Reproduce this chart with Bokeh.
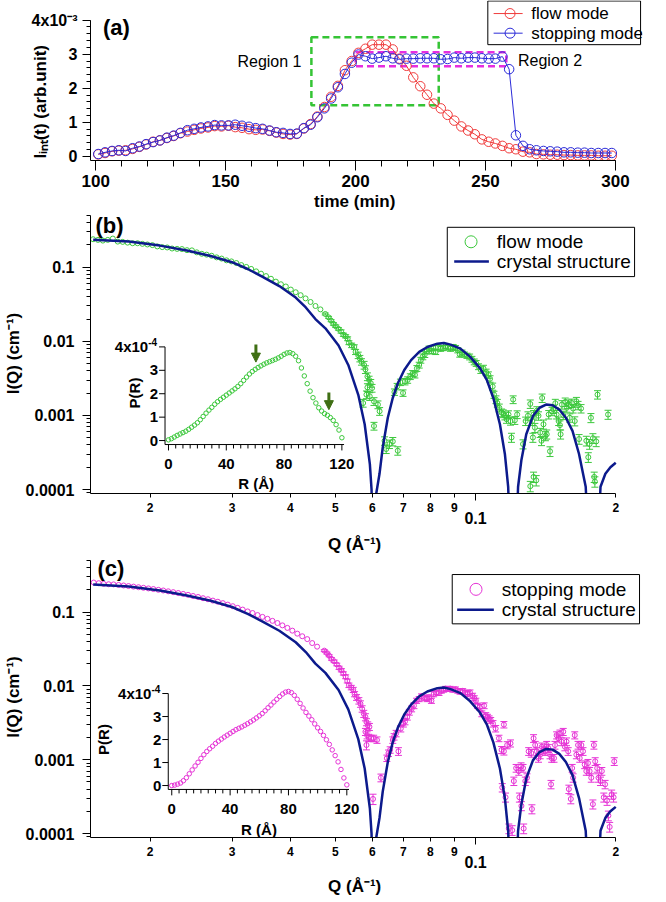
import math
from bokeh.plotting import figure
from bokeh.layouts import column
from bokeh.models import (Range1d, LinearScale, FixedTicker, CustomJSTickFormatter, LogAxis,
                          Arrow, NormalHead)
from bokeh.core.properties import value
from bokeh.embed import file_html
from bokeh.resources import INLINE

# ----------------------------------------------------------------- data (a)
time_min = [101.0, 103.6, 106.3, 108.9, 111.5, 114.2, 116.8, 119.4, 122.1, 124.7,
            127.4, 130.0, 132.6, 135.3, 137.9, 140.5, 143.2, 145.8, 148.4, 151.1,
            153.7, 156.3, 159.0, 161.6, 164.2, 166.9, 169.5, 172.1, 174.8, 177.4,
            180.1, 182.7, 185.3, 188.0, 190.6, 193.2, 195.9, 198.5, 201.1, 203.8,
            206.4, 209.0, 211.7, 214.3, 216.9, 219.6, 222.2, 224.9, 227.5, 230.1,
            232.8, 235.4, 238.0, 240.7, 243.3, 245.9, 248.6, 251.2, 253.8, 256.5,
            259.1, 261.7, 264.4, 267.0, 269.6, 272.3, 274.9, 277.6, 280.2, 282.8,
            285.5, 288.1, 290.7, 293.4, 296.0, 298.6]
# integrated intensity, in units of 1e-3
flow_int = [0.06, 0.10, 0.15, 0.17, 0.18, 0.22, 0.28, 0.35, 0.43, 0.47,
            0.54, 0.60, 0.68, 0.73, 0.78, 0.82, 0.85, 0.89, 0.88, 0.90,
            0.86, 0.84, 0.80, 0.78, 0.79, 0.75, 0.70, 0.66, 0.64, 0.66,
            0.82, 0.95, 1.17, 1.45, 1.75, 2.07, 2.53, 2.80, 3.04, 3.16,
            3.28, 3.28, 3.28, 3.14, 2.87, 2.66, 2.32, 2.06, 1.81, 1.55,
            1.41, 1.22, 1.05, 0.88, 0.76, 0.65, 0.50, 0.43, 0.38, 0.31,
            0.24, 0.21, 0.14, 0.12, 0.07, 0.06, 0.05, 0.05, 0.04, 0.04,
            0.03, 0.03, 0.03, 0.02, 0.02, 0.02]
stop_int = [0.07, 0.12, 0.16, 0.18, 0.16, 0.24, 0.29, 0.36, 0.42, 0.47,
            0.55, 0.61, 0.69, 0.77, 0.81, 0.85, 0.88, 0.92, 0.91, 0.91,
            0.93, 0.90, 0.87, 0.83, 0.81, 0.76, 0.71, 0.69, 0.66, 0.67,
            0.83, 0.93, 1.15, 1.41, 1.70, 2.03, 2.42, 2.75, 2.99, 2.94,
            2.87, 2.90, 2.94, 2.88, 2.85, 2.87, 2.87, 2.88, 2.88, 2.88,
            2.85, 2.86, 2.90, 2.88, 2.90, 2.90, 2.88, 2.87, 2.87, 2.93,
            2.56, 0.62, 0.31, 0.21, 0.18, 0.16, 0.15, 0.14, 0.12, 0.12,
            0.11, 0.11, 0.10, 0.10, 0.10, 0.10]
time_ticks = [100, 150, 200, 250, 300]
int_ticks = [0, 1, 2, 3, 4]
region1_t = [183, 232]
region1_I = [1.5, 3.5]
region2_t = [200, 258]
region2_I = [2.65, 3.06]

# ----------------------------------------------------------------- data (b) flow mode
qb_guinier = [0.01509, 0.01546, 0.01584, 0.01623, 0.01664, 0.01705, 0.01747, 0.01790, 0.01835, 0.01880,
              0.01926, 0.01974, 0.02023, 0.02073, 0.02124, 0.02177, 0.02230, 0.02286, 0.02342, 0.02401,
              0.02460, 0.02520, 0.02583, 0.02646, 0.02712, 0.02780, 0.02849, 0.02919, 0.02991, 0.03065,
              0.03141, 0.03219, 0.03298, 0.03380, 0.03463, 0.03549, 0.03637, 0.03726, 0.03820, 0.03914,
              0.04011, 0.04110, 0.04211, 0.04315, 0.04423, 0.04532, 0.04644]
ib_guinier = [0.239, 0.234, 0.229, 0.234, 0.244, 0.222, 0.220, 0.215, 0.211, 0.211,
              0.207, 0.203, 0.199, 0.191, 0.187, 0.185, 0.179, 0.177, 0.176, 0.170,
              0.169, 0.159, 0.152, 0.148, 0.143, 0.136, 0.131, 0.124, 0.120, 0.114,
              0.107, 0.101, 0.095, 0.088, 0.082, 0.076, 0.070, 0.064, 0.059, 0.055,
              0.050, 0.046, 0.042, 0.038, 0.034, 0.030, 0.027]
eb_guinier = [0.01] * 47
qb_dip = [0.04757, 0.04835, 0.04897, 0.04953, 0.05010, 0.05076, 0.05143, 0.05202, 0.05261, 0.05313,
          0.05347, 0.05418, 0.05490, 0.05526, 0.05598, 0.05643, 0.05689, 0.05764, 0.05802, 0.05859,
          0.05907, 0.05956, 0.05994, 0.05859, 0.05831, 0.05927, 0.05736, 0.06052, 0.06172, 0.06223,
          0.06052, 0.06377, 0.06429, 0.06534, 0.06642, 0.06808]
ib_dip = [0.0234, 0.0211, 0.0190, 0.0172, 0.0160, 0.01475, 0.0136, 0.0123, 0.0117, 0.01085,
          0.0096, 0.00884, 0.0084, 0.00721, 0.0065, 0.00587, 0.0053, 0.00479, 0.00418, 0.00335,
          0.00302, 0.00273, 0.00234, 0.00239, 0.00191, 0.00181, 0.00147, 0.00155, 0.0014, 0.00114,
          0.00072, 0.000455, 0.000352, 0.000411, 0.000446, 0.000334]
eb_dip = [0.03, 0.03, 0.03, 0.04, 0.04, 0.04, 0.05, 0.05, 0.05, 0.06,
          0.06, 0.07, 0.07, 0.08, 0.10, 0.10, 0.10, 0.12, 0.12, 0.12,
          0.12, 0.12, 0.12, 0.12, 0.12, 0.12, 0.12, 0.12, 0.12, 0.12,
          0.12, 0.13, 0.13, 0.13, 0.13, 0.13]
qb_lobe = [0.06696, 0.06785, 0.06897, 0.06987, 0.07055, 0.07148, 0.07242, 0.07326, 0.07410, 0.07482,
           0.07568, 0.07630, 0.07705, 0.07780, 0.07857, 0.07947, 0.08040, 0.08117, 0.08210, 0.08304,
           0.08414, 0.08525, 0.08622, 0.08721, 0.08835, 0.08952, 0.09055, 0.09159, 0.09248, 0.09353,
           0.09461, 0.09585, 0.09711, 0.09823, 0.09936, 0.10032, 0.10148, 0.10265, 0.10399, 0.10536,
           0.10656, 0.10743, 0.10883, 0.10955, 0.11063, 0.11136, 0.11245, 0.11374, 0.11466, 0.11561,
           0.11655, 0.11770, 0.11887, 0.12043, 0.12143, 0.12283]
ib_lobe = [0.00207, 0.00246, 0.00281, 0.00201, 0.00287, 0.00302, 0.00335, 0.00370, 0.00352, 0.00432,
           0.00479, 0.00558, 0.00620, 0.00665, 0.00736, 0.00798, 0.00736, 0.00814, 0.00721, 0.00830,
           0.00798, 0.00814, 0.00867, 0.00830, 0.00798, 0.00840, 0.00814, 0.00760, 0.00665, 0.00706,
           0.00665, 0.00640, 0.00618, 0.00575, 0.00530, 0.00505, 0.00456, 0.00410, 0.00432, 0.00383,
           0.00352, 0.00312, 0.00246, 0.00191, 0.00164, 0.00147, 0.00127, 0.00109, 0.00106, 0.00099,
           0.00089, 0.00103, 0.00084, 0.00164, 0.00086, 0.00103]
eb_lobe = [0.10, 0.10, 0.10, 0.10, 0.10, 0.10, 0.09, 0.09, 0.09, 0.09,
           0.09, 0.09, 0.09, 0.09, 0.08, 0.08, 0.08, 0.08, 0.08, 0.08,
           0.08, 0.08, 0.08, 0.08, 0.08, 0.08, 0.08, 0.08, 0.08, 0.08,
           0.08, 0.08, 0.09, 0.09, 0.09, 0.09, 0.09, 0.10, 0.10, 0.10,
           0.10, 0.10, 0.11, 0.11, 0.12, 0.12, 0.12, 0.12, 0.12, 0.12,
           0.12, 0.12, 0.12, 0.12, 0.12, 0.12]
qb_high = [0.11945, 0.12646, 0.12811, 0.12959, 0.13108, 0.13236, 0.13322, 0.13278, 0.13410, 0.13541,
           0.13652, 0.13764, 0.13855, 0.13900, 0.13991, 0.14126, 0.14218, 0.14358, 0.14452, 0.14594,
           0.14690, 0.14835, 0.14932, 0.15080, 0.15178, 0.15228, 0.15326, 0.15426, 0.15578, 0.15705,
           0.15835, 0.15938, 0.16096, 0.16201, 0.16332, 0.16466, 0.16600, 0.16682, 0.16846, 0.17294,
           0.17463, 0.17577, 0.17691, 0.17863, 0.17979, 0.18039, 0.18158, 0.18277, 0.19254, 0.13322,
           0.13108, 0.13497]
ib_high = [0.000504, 0.000411, 0.00084, 0.00099, 0.00143, 0.00084, 0.00103, 0.000504, 0.000685, 0.00116,
           0.00099, 0.000587, 0.000455, 0.00172, 0.00076, 0.00053, 0.000558, 0.00103, 0.000328, 0.00114,
           0.00122, 0.00146, 0.00103, 0.00084, 0.00074, 0.000558, 0.00140, 0.00101, 0.00152, 0.00127,
           0.00143, 0.00093, 0.00147, 0.00124, 0.00084, 0.00155, 0.00137, 0.00048, 0.00124, 0.000455,
           0.000273, 0.000411, 0.00093, 0.000493, 0.000148, 0.000128, 0.000446, 0.00191, 0.00103, 0.000148,
           0.000111, 0.000133]
eb_high = [0.14, 0.14, 0.13, 0.13, 0.13, 0.13, 0.13, 0.14, 0.14, 0.13,
           0.13, 0.14, 0.14, 0.13, 0.14, 0.14, 0.14, 0.13, 0.15, 0.13,
           0.13, 0.13, 0.13, 0.13, 0.14, 0.14, 0.13, 0.13, 0.13, 0.13,
           0.13, 0.13, 0.13, 0.13, 0.14, 0.13, 0.13, 0.15, 0.13, 0.15,
           0.15, 0.15, 0.14, 0.15, 0.16, 0.16, 0.15, 0.13, 0.14, 0.16,
           0.16, 0.16]

# ----------------------------------------------------------------- data (c) stopping mode
qc_guinier = [0.01514, 0.01552, 0.01590, 0.01630, 0.01670, 0.01712, 0.01755, 0.01798, 0.01843, 0.01889,
              0.01936, 0.01984, 0.02033, 0.02084, 0.02135, 0.02188, 0.02243, 0.02299, 0.02356, 0.02414,
              0.02474, 0.02536, 0.02599, 0.02663, 0.02729, 0.02797, 0.02867, 0.02938, 0.03011, 0.03085,
              0.03162, 0.03241, 0.03321, 0.03404, 0.03488, 0.03575, 0.03664, 0.03755, 0.03848, 0.03944,
              0.04042, 0.04142, 0.04245, 0.04351, 0.04459, 0.04569]
ic_guinier = [0.251, 0.246, 0.241, 0.238, 0.237, 0.233, 0.229, 0.225, 0.221, 0.217,
              0.213, 0.209, 0.205, 0.200, 0.196, 0.191, 0.186, 0.181, 0.176, 0.171,
              0.165, 0.160, 0.154, 0.149, 0.143, 0.138, 0.132, 0.126, 0.120, 0.114,
              0.108, 0.102, 0.097, 0.091, 0.086, 0.081, 0.076, 0.071, 0.066, 0.061,
              0.056, 0.051, 0.047, 0.043, 0.038, 0.034]
ec_guinier = [0.01] * 46
qc_dip = [0.04734, 0.04796, 0.04850, 0.04905, 0.04970, 0.05035, 0.05093, 0.05151, 0.05202, 0.05261,
          0.05304, 0.05347, 0.05409, 0.05462, 0.05499, 0.05553, 0.05616, 0.05661, 0.05708, 0.05754,
          0.05802, 0.05831, 0.05868, 0.05917, 0.05802, 0.05850, 0.05897, 0.05965, 0.06043, 0.06142,
          0.05831, 0.06023, 0.06264]
ic_dip = [0.0300, 0.0278, 0.0256, 0.0232, 0.0215, 0.0195, 0.0176, 0.0163, 0.01475, 0.01331,
          0.01166, 0.0102, 0.0095, 0.00884, 0.00774, 0.00699, 0.0063, 0.0057, 0.00489, 0.0042,
          0.00378, 0.00324, 0.00293, 0.00279, 0.00239, 0.00215, 0.00199, 0.00195, 0.00195, 0.00185,
          0.00158, 0.000294, 0.00057]
ec_dip = [0.03, 0.03, 0.03, 0.04, 0.04, 0.04, 0.05, 0.05, 0.05, 0.06,
          0.06, 0.07, 0.07, 0.08, 0.08, 0.09, 0.10, 0.10, 0.10, 0.11,
          0.11, 0.11, 0.11, 0.11, 0.11, 0.11, 0.11, 0.10, 0.10, 0.10,
          0.14, 0.16, 0.12]
qc_lobe = [0.06450, 0.06502, 0.06556, 0.06642, 0.06685, 0.06752, 0.06830, 0.06909, 0.06998, 0.07055,
           0.07136, 0.07207, 0.07290, 0.07374, 0.07470, 0.07568, 0.07655, 0.07780, 0.07870, 0.07947,
           0.08040, 0.08130, 0.08237, 0.08345, 0.08441, 0.08539, 0.08622, 0.08721, 0.08820, 0.08937,
           0.09055, 0.09159, 0.09263, 0.09384, 0.09507, 0.09616, 0.09727, 0.09855, 0.09936, 0.10016,
           0.10098, 0.10214, 0.10315, 0.10433, 0.10518, 0.10605, 0.10691, 0.10778, 0.10901, 0.11045,
           0.11227, 0.11374, 0.11504, 0.11504, 0.11693, 0.11887]
ic_lobe = [0.00105, 0.00123, 0.00136, 0.00185, 0.00205, 0.00227, 0.00130, 0.00264, 0.00308, 0.00330,
           0.00378, 0.00441, 0.00489, 0.00540, 0.00630, 0.00665, 0.00721, 0.00692, 0.00665, 0.00699,
           0.00630, 0.00774, 0.00815, 0.00798, 0.00857, 0.00884, 0.00920, 0.00903, 0.00920, 0.00884,
           0.00903, 0.00857, 0.00830, 0.00857, 0.00815, 0.00774, 0.00815, 0.00736, 0.00680, 0.00630,
           0.00540, 0.00514, 0.00420, 0.00540, 0.00398, 0.00378, 0.00360, 0.00342, 0.00308, 0.00264,
           0.00195, 0.00136, 0.00130, 0.00299, 0.00158, 0.00167]
ec_lobe = [0.10, 0.10, 0.10, 0.10, 0.10, 0.10, 0.12, 0.10, 0.10, 0.10,
           0.09, 0.09, 0.09, 0.09, 0.08, 0.08, 0.08, 0.08, 0.08, 0.08,
           0.08, 0.08, 0.07, 0.07, 0.07, 0.07, 0.07, 0.07, 0.07, 0.07,
           0.07, 0.07, 0.07, 0.07, 0.07, 0.08, 0.08, 0.08, 0.08, 0.08,
           0.08, 0.09, 0.09, 0.09, 0.09, 0.09, 0.09, 0.09, 0.10, 0.10,
           0.10, 0.11, 0.11, 0.10, 0.11, 0.11]
qc_high = [0.11411, 0.11598, 0.11790, 0.11985, 0.12083, 0.12223, 0.12381, 0.12523, 0.12646, 0.12687,
           0.12421, 0.12544, 0.12790, 0.12896, 0.13002, 0.13172, 0.13215, 0.13322, 0.13431, 0.13541,
           0.13652, 0.13764, 0.13878, 0.13991, 0.14103, 0.14218, 0.14335, 0.14452, 0.14523, 0.14570,
           0.14740, 0.14811, 0.14932, 0.15055, 0.15178, 0.15301, 0.15426, 0.15553, 0.15680, 0.15808,
           0.15860, 0.16017, 0.16122, 0.16201, 0.16332, 0.16465, 0.16600, 0.16737, 0.16874, 0.17013,
           0.17153, 0.17294, 0.17435, 0.17577, 0.17720, 0.17863, 0.17951, 0.18068, 0.18247, 0.18366,
           0.18548, 0.18670, 0.18852, 0.18973, 0.19161, 0.19286, 0.19410, 0.19599, 0.19789, 0.19852]
ic_high = [0.00042, 0.00031, 0.000117, 0.000111, 0.000514, 0.00077, 0.00070, 0.00081, 0.00077, 0.000117,
           0.00031, 0.000237, 0.000514, 0.00057, 0.00130, 0.00123, 0.000215, 0.00195, 0.00158, 0.00130,
           0.00105, 0.00117, 0.00150, 0.00136, 0.00130, 0.00158, 0.00143, 0.00117, 0.000464, 0.00105,
           0.00105, 0.00158, 0.00215, 0.00195, 0.00227, 0.00176, 0.00239, 0.00150, 0.00176, 0.00130,
           0.00040, 0.000294, 0.00077, 0.00057, 0.00215, 0.00117, 0.00158, 0.00105, 0.00158, 0.00130,
           0.00086, 0.00070, 0.00090, 0.00070, 0.00057, 0.00025, 0.00158, 0.00095, 0.00077, 0.00057,
           0.000514, 0.00070, 0.00031, 0.000464, 0.00028, 0.000175, 0.000123, 0.00034, 0.00031, 0.00095]
ec_high = [0.13, 0.14, 0.15, 0.15, 0.13, 0.12, 0.12, 0.12, 0.12, 0.15,
           0.14, 0.14, 0.13, 0.13, 0.12, 0.12, 0.14, 0.12, 0.12, 0.12,
           0.12, 0.12, 0.12, 0.12, 0.12, 0.12, 0.12, 0.12, 0.13, 0.12,
           0.12, 0.12, 0.11, 0.11, 0.11, 0.12, 0.11, 0.12, 0.12, 0.12,
           0.13, 0.14, 0.12, 0.13, 0.11, 0.12, 0.12, 0.12, 0.12, 0.12,
           0.12, 0.12, 0.12, 0.12, 0.13, 0.14, 0.12, 0.12, 0.12, 0.13,
           0.13, 0.12, 0.14, 0.13, 0.14, 0.15, 0.15, 0.14, 0.14, 0.12]

# ----------------------------------------------------------------- crystal structure curve
q_cryst = [0.0151, 0.0180, 0.0210, 0.0240, 0.0270, 0.0300, 0.0325, 0.0349, 0.0379, 0.0411,
           0.0432, 0.0453, 0.0476, 0.0508, 0.0533, 0.0560, 0.0578, 0.0593, 0.0598, 0.0605,
           0.0612, 0.0622, 0.0632, 0.0648, 0.0664, 0.0681, 0.0703, 0.0727, 0.0757, 0.0788,
           0.0828, 0.0855, 0.0884, 0.0928, 0.0974, 0.1023, 0.1057, 0.1092, 0.1128, 0.1156,
           0.1175, 0.1204, 0.1234, 0.1254, 0.1285, 0.1328, 0.1372, 0.1417, 0.1464, 0.1513,
           0.1563, 0.1615, 0.1668, 0.1724, 0.1790, 0.1855, 0.1900, 0.1948, 0.2000]
i_cryst = [0.236, 0.222, 0.196, 0.168, 0.142, 0.117, 0.094, 0.0743, 0.0558, 0.0390,
           0.0287, 0.0200, 0.0150, 0.0088, 0.0048, 0.0019, 0.00076, 0.00022, 0.00010, 0.000001,
           0.0000885, 0.000163, 0.000371, 0.00093, 0.00172, 0.00272, 0.0041, 0.00558, 0.00721, 0.0084,
           0.00931, 0.0095, 0.00903, 0.00798, 0.00618, 0.00432, 0.00302, 0.00172, 0.00076, 0.000302,
           0.000109, 0.000001, 0.000109, 0.000246, 0.000558, 0.00098, 0.00127, 0.0014, 0.00137, 0.0012,
           0.00093, 0.000618, 0.000302, 0.000109, 0.000001, 0.000109, 0.000163, 0.0002, 0.00023]

# ----------------------------------------------------------------- insets: P(R), units of 1e-4
r_pr = list(range(0, 121, 2))
pr_flow = [0.03, 0.08, 0.15, 0.22, 0.28, 0.34, 0.40, 0.48, 0.57, 0.66,
           0.76, 0.89, 1.03, 1.17, 1.30, 1.42, 1.55, 1.66, 1.76, 1.85,
           1.94, 2.03, 2.12, 2.21, 2.31, 2.43, 2.57, 2.71, 2.84, 2.95,
           3.04, 3.12, 3.19, 3.26, 3.32, 3.37, 3.42, 3.47, 3.53, 3.60,
           3.68, 3.74, 3.76, 3.71, 3.60, 3.41, 3.10, 2.76, 2.43, 2.11,
           1.83, 1.60, 1.40, 1.26, 1.15, 1.08, 0.98, 0.86, 0.68, 0.45,
           0.12]
pr_stop = [0.00, 0.02, 0.06, 0.11, 0.21, 0.34, 0.51, 0.68, 0.85, 1.01,
           1.18, 1.34, 1.48, 1.60, 1.71, 1.83, 1.93, 2.02, 2.11, 2.19,
           2.27, 2.35, 2.43, 2.49, 2.55, 2.62, 2.69, 2.77, 2.85, 2.94,
           3.03, 3.13, 3.25, 3.38, 3.50, 3.63, 3.75, 3.87, 3.98, 4.06,
           4.09, 4.04, 3.92, 3.75, 3.57, 3.37, 3.18, 3.02, 2.86, 2.68,
           2.51, 2.35, 2.18, 1.99, 1.79, 1.55, 1.30, 1.03, 0.70, 0.33,
           0.03]
inset_r_ticks = [0, 40, 80, 120]
inset_p_ticks = [0, 1, 2, 3, 4]
arrow_r = [60.5, 111.0]
arrow_from = [4.10, 2.05]
arrow_to = [3.35, 1.32]

# ----------------------------------------------------------------- styling / layout
FONT = "Liberation Sans"
RED, BLUE = "#f03c3c", "#2b2bd8"
GREEN, MAGENTA, NAVY = "#3cc83c", "#e633d6", "#0c1a8c"
BOX_GREEN, BOX_MAGENTA = "#35c435", "#e62ee0"
ARROW_GREEN = "#3f6f14"
W = 650
NB = "\u00a0"   # non-breaking space used to nudge centred axis titles

# panel (a) geometry (figure pixels)
A_H, A_L, A_FB = 213, 79, 163          # height, frame left, frame bottom
A_AX_RIGHT, A_AX_TOP = 622, 20         # where t=300 and I=4 sit
T_AX = (98, 300)
I_AX = (-0.12, 4.0)

# panels (b), (c)
S_L, S_FR = 85, 642                    # frame left / right
Q_AX = (0.0149, 0.2)
Q_AX_RIGHT = 615                       # pixel of Q = 0.2
IQ_AX = (8.84e-5, 0.5)


def style_axis(ax, size, out, minor_out, standoff, label_size=17, label_standoff=2):
    ax.axis_line_color = "black"
    ax.axis_line_width = 1
    ax.major_tick_line_color = "black"
    ax.minor_tick_line_color = "black"
    ax.major_tick_in = 0
    ax.minor_tick_in = 0
    ax.major_tick_out = out
    ax.minor_tick_out = minor_out
    ax.major_label_text_font = FONT
    ax.major_label_text_font_style = "bold"
    ax.major_label_text_font_size = f"{size}px"
    ax.major_label_text_color = "black"
    ax.major_label_standoff = standoff
    ax.axis_label_text_font = FONT
    ax.axis_label_text_font_style = "bold"
    ax.axis_label_text_font_size = f"{label_size}px"
    ax.axis_label_text_color = "black"
    ax.axis_label_standoff = label_standoff


def add_text(p, x, y, s, size, bold=True, align="left", baseline="middle", angle=0.0, rng=None):
    kw = dict(x_range_name=rng[0], y_range_name=rng[1]) if rng else {}
    p.text(x=[x], y=[y], text=[s], text_font=value(FONT), text_font_size=f"{size}px",
           text_font_style="bold" if bold else "normal", text_align=align,
           text_baseline=baseline, angle=angle, text_color="black", **kw)


def draw_legend(p, box, rows, size):
    """box: (left, top, right, bottom) in figure px; rows: (y, kinds, color, glyph_x, text_x, label, msize)"""
    kw = dict(x_range_name="fx", y_range_name="fy")
    p.quad(left=[box[0]], top=[box[1]], right=[box[2]], bottom=[box[3]],
           fill_color="white", line_color="black", line_width=1, **kw)
    for y, kinds, color, gx, tx, label, msize in rows:
        if "line" in kinds:
            p.segment(x0=[gx[0]], y0=[y], x1=[gx[1]], y1=[y], line_color=color,
                      line_width=kinds["line"], **kw)
        if "circle" in kinds:
            p.scatter([kinds["circle"]], [y], marker="circle", size=msize, line_color=color,
                      fill_color=None, line_width=1, **kw)
        add_text(p, tx, y, label, size, bold=False, rng=("fx", "fy"))


# ================================================================= panel (a)
a_px_x = (A_AX_RIGHT - A_L) / (T_AX[1] - T_AX[0])
a_px_y = (A_FB - A_AX_TOP) / (I_AX[1] - I_AX[0])
pa = figure(width=W, height=A_H, output_backend="svg", toolbar_location=None,
            x_range=Range1d(T_AX[0], T_AX[0] + (W - A_L) / a_px_x),
            y_range=Range1d(I_AX[0], I_AX[0] + A_FB / a_px_y),
            min_border_left=A_L, min_border_right=0, min_border_top=0, min_border_bottom=A_H - A_FB)
pa.outline_line_color = None
pa.grid.visible = False
pa.extra_x_ranges = {"fx": Range1d(A_L, W)}
pa.extra_y_ranges = {"fy": Range1d(A_FB, 0)}
pa.extra_x_scales = {"fx": LinearScale()}
pa.extra_y_scales = {"fy": LinearScale()}
pa.xaxis.ticker = FixedTicker(ticks=time_ticks, minor_ticks=list(range(100, 301, 10)))
pa.yaxis.ticker = FixedTicker(ticks=int_ticks, minor_ticks=[k / 5 for k in range(0, 21)])
pa.yaxis.formatter = CustomJSTickFormatter(code="return tick >= 3.5 ? '4x10⁻³' : tick.toFixed(0);")
pa.xaxis.bounds = T_AX
pa.yaxis.bounds = I_AX
style_axis(pa.xaxis[0], 17, 10, 6, 4, label_standoff=2)
style_axis(pa.yaxis[0], 16, 8, 4, 5, label_standoff=-21)
pa.xaxis.axis_label = "time (min)" + NB * 5
pa.yaxis.axis_label = "Iᵢₙₜ(t) (arb.unit)" + NB * 9

pa.quad(left=[region1_t[0]], right=[region1_t[1]], bottom=[region1_I[0]], top=[region1_I[1]],
        fill_color=None, line_color=BOX_GREEN, line_width=2.5, line_dash="7 4")
pa.quad(left=[region2_t[0]], right=[region2_t[1]], bottom=[region2_I[0]], top=[region2_I[1]],
        fill_color=None, line_color=BOX_MAGENTA, line_width=2.5, line_dash="7 4")

pa.line(time_min, flow_int, line_color=RED, line_width=1)
pa.scatter(time_min, flow_int, marker="circle", size=9.5, line_color=RED, fill_color=None, line_width=1)
pa.line(time_min, stop_int, line_color=BLUE, line_width=1)
pa.scatter(time_min, stop_int, marker="circle", size=9.5, line_color=BLUE, fill_color=None, line_width=1)

add_text(pa, 179.2, 2.78, "Region 1", 16, bold=False, align="right")
add_text(pa, 262.5, 2.82, "Region 2", 16, bold=False, align="left")
add_text(pa, 102.8, 3.78, "(a)", 22)

draw_legend(pa, (490, 0.5, 648, 45),
            [(13.3, {"line": 1, "circle": 513}, RED, (496, 526), 535, "flow mode", 10),
             (33.3, {"line": 1, "circle": 513}, BLUE, (496, 526), 535, "stopping mode", 10)], 17)


# ================================================================= panels (b), (c)
def saxs_panel(tag, q, i, e, color, height, frame_b, ax_top, tag_px, geom, pr,
               rlab, plab, arrows, legend_box, legend_rows, below_label_standoff):
    qdec = (Q_AX_RIGHT - S_L) / math.log10(Q_AX[1] / Q_AX[0])
    idec = (frame_b - ax_top) / math.log10(IQ_AX[1] / IQ_AX[0])
    x_end = Q_AX[1] * 10 ** ((S_FR - Q_AX_RIGHT) / qdec)
    y_end = IQ_AX[1] * 10 ** (ax_top / idec)
    p = figure(width=W, height=height, output_backend="svg", toolbar_location=None,
               x_axis_type="log", y_axis_type="log",
               x_range=Range1d(Q_AX[0], x_end), y_range=Range1d(IQ_AX[0], y_end),
               min_border_left=S_L, min_border_right=W - S_FR, min_border_top=0,
               min_border_bottom=height - frame_b)
    p.outline_line_color = None
    p.grid.visible = False

    # y axis
    p.yaxis.ticker = FixedTicker(ticks=[1e-4, 1e-3, 1e-2, 1e-1],
                                 minor_ticks=[k * 10.0 ** ex for ex in range(-5, 0) for k in range(2, 10)
                                              if k * 10.0 ** ex <= 0.5])
    p.yaxis.formatter = CustomJSTickFormatter(code="return tick.toPrecision(1);")
    p.yaxis.bounds = IQ_AX
    style_axis(p.yaxis[0], 16, 8, 4, 8, label_standoff=0)
    p.yaxis.axis_label = "I(Q) (cm⁻¹)"

    # x axis: digits between decades
    small = [0.02, 0.03, 0.04, 0.05, 0.06, 0.07, 0.08, 0.09, 0.2]
    p.xaxis.ticker = FixedTicker(ticks=small, minor_ticks=[0.1])
    p.xaxis.formatter = CustomJSTickFormatter(
        code="return tick < 0.095 ? (tick*100).toFixed(0) : (tick*10).toFixed(0);")
    p.xaxis.bounds = Q_AX
    style_axis(p.xaxis[0], 12, 4, 7, 2)
    # x axis: decade label + title
    ax2 = LogAxis(ticker=FixedTicker(ticks=[0.1]),
                  formatter=CustomJSTickFormatter(code="return tick.toPrecision(1);"))
    style_axis(ax2, 16, 0, 0, -3, label_standoff=below_label_standoff)
    ax2.axis_line_color = None
    ax2.major_tick_line_color = None
    ax2.minor_tick_line_color = None
    ax2.bounds = Q_AX
    ax2.axis_label = "Q (Å⁻¹)" + NB * 5
    p.add_layout(ax2, "below")

    # inset + figure-pixel ranges
    x0, kx, y0, ky = geom
    p.extra_x_ranges = {"ins": Range1d((S_L - x0) / kx, (S_FR - x0) / kx), "fx": Range1d(S_L, S_FR)}
    p.extra_y_ranges = {"ins": Range1d((y0 - frame_b) / ky, y0 / ky), "fy": Range1d(frame_b, 0)}
    p.extra_x_scales = {"ins": LinearScale(), "fx": LinearScale()}
    p.extra_y_scales = {"ins": LinearScale(), "fy": LinearScale()}

    # data with error bars
    lo = [iv * (1 - ev) for iv, ev in zip(i, e) if ev >= 0.03]
    hi = [iv * (1 + ev) for iv, ev in zip(i, e) if ev >= 0.03]
    qe = [qv for qv, ev in zip(q, e) if ev >= 0.03]
    p.segment(x0=qe, y0=lo, x1=qe, y1=hi, line_color=color, line_width=1)
    p.scatter(qe + qe, lo + hi, marker="dash", size=7, line_color=color, line_width=1)
    p.scatter(q, i, marker="circle", size=5, line_color=color, fill_color=None, line_width=1)
    p.line(q_cryst, i_cryst, line_color=NAVY, line_width=2.5)

    # panel tag
    add_text(p, tag_px[0], tag_px[1], tag, 22, rng=("fx", "fy"))

    # inset axes
    kw = dict(x_range_name="ins", y_range_name="ins")
    rng = ("ins", "ins")
    ra0, ra1 = -2.4, 121.5
    pa0, pa1 = -0.17, 4.0
    p.segment(x0=[ra0, ra0], y0=[pa0, pa0], x1=[ra1, ra0], y1=[pa0, pa1],
              line_color="black", line_width=1, **kw)
    mnr = [v for v in range(5, 120, 5) if v not in inset_r_ticks]
    p.segment(x0=inset_r_ticks, y0=[pa0] * 4, x1=inset_r_ticks, y1=[pa0 - 6 / ky] * 4,
              line_color="black", line_width=1, **kw)
    p.segment(x0=mnr, y0=[pa0] * len(mnr), x1=mnr, y1=[pa0 - 4 / ky] * len(mnr),
              line_color="black", line_width=1, **kw)
    p.segment(x0=[ra0] * 5, y0=inset_p_ticks, x1=[ra0 - 6 / kx] * 5, y1=inset_p_ticks,
              line_color="black", line_width=1, **kw)
    for v in inset_r_ticks:
        add_text(p, v, pa0 - 20 / ky, str(v), 15, align="center", rng=rng)
    for v in inset_p_ticks[:-1]:
        add_text(p, ra0 - 7 / kx, v, str(v), 15, align="right", rng=rng)
    add_text(p, ra0 - 17 / kx, inset_p_ticks[-1], "4x10", 15, align="right", rng=rng)
    add_text(p, ra0 - 17 / kx, inset_p_ticks[-1] + 5 / ky, "-4", 10, align="left", rng=rng)
    add_text(p, rlab[0], rlab[1], "R (Å)", 15, align="center", rng=rng)
    add_text(p, plab[0], plab[1], "P(R)", 15, align="center", angle=math.pi / 2, rng=rng)
    p.scatter(r_pr, pr, marker="circle", size=4.5, line_color=color, fill_color=None, line_width=1, **kw)
    if arrows:
        for r, a0, a1 in zip(arrow_r, arrow_from, arrow_to):
            p.add_layout(Arrow(end=NormalHead(size=9, fill_color=ARROW_GREEN, line_color=ARROW_GREEN),
                               x_start=r, y_start=a0, x_end=r, y_end=a1,
                               line_color=ARROW_GREEN, line_width=3, **kw))

    draw_legend(p, legend_box, legend_rows, 19)
    return p


q_flow = qb_guinier + qb_dip + qb_lobe + qb_high
i_flow = ib_guinier + ib_dip + ib_lobe + ib_high
e_flow = eb_guinier + eb_dip + eb_lobe + eb_high
q_stop = qc_guinier + qc_dip + qc_lobe + qc_high
i_stop = ic_guinier + ic_dip + ic_lobe + ic_high
e_stop = ec_guinier + ec_dip + ec_lobe + ec_high
assert len(q_flow) == len(i_flow) == len(e_flow)
assert len(q_stop) == len(i_stop) == len(e_stop)
assert len(q_cryst) == len(i_cryst)
assert len(r_pr) == len(pr_flow) == len(pr_stop)

pb = saxs_panel("(b)", q_flow, i_flow, e_flow, GREEN, 343, 284, 2, (90, 12.5),
                (163.7, 1.458, 230.3, 23.75), pr_flow, (60.6, -1.85), (-23.8, 2.03), True,
                (445, 14, 634, 64),
                [(28.7, {"circle": 469}, GREEN, None, 495, "flow mode", 12),
                 (48.7, {"line": 2.5}, NAVY, (452, 487), 495, "crystal structure", 12)], 8)
pc = saxs_panel("(c)", q_stop, i_stop, e_stop, MAGENTA, 342, 285, 4, (92, 12.5),
                (167.0, 1.472, 232.3, 23.33), pr_stop, (59.8, -1.92), (-46.9, 2.0), False,
                (450, 18.3, 639, 68.3),
                [(33.3, {"circle": 474}, MAGENTA, None, 500, "stopping mode", 12),
                 (54.0, {"line": 2.5}, NAVY, (455, 492), 500, "crystal structure", 12)], 6)

layout = column(pa, pb, pc, spacing=0)
open("out.html", "w").write(file_html(layout, INLINE))
